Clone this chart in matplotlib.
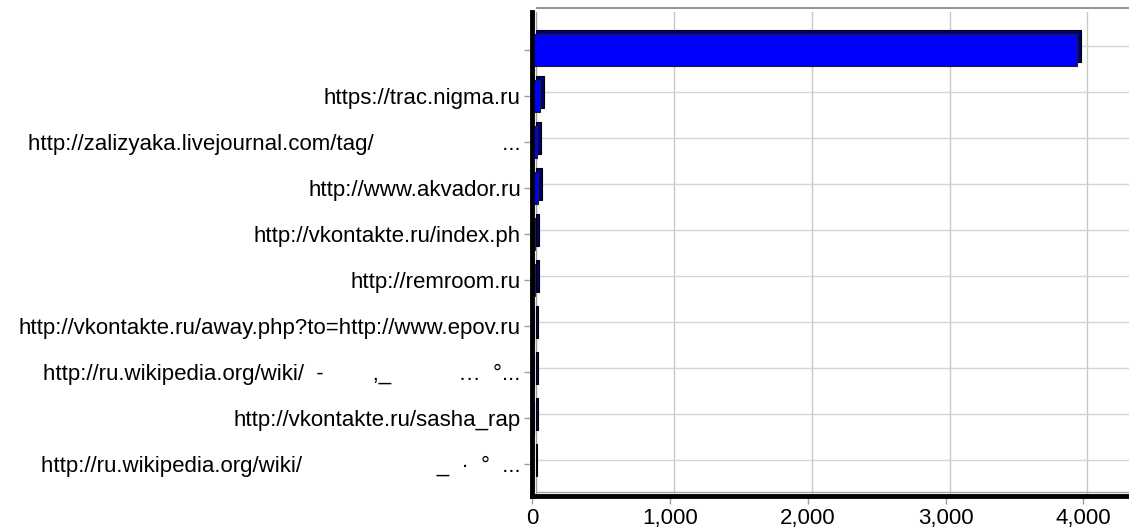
import matplotlib.pyplot as plt
from matplotlib.transforms import ScaledTranslation

plt.rcParams['font.family'] = ['Liberation Sans', 'DejaVu Sans']

# Referring sites, top to bottom (some titles lost their Cyrillic text).
labels = [
    '',
    'https://trac.nigma.ru',
    'http://zalizyaka.livejournal.com/tag/' + ' ' * 21 + '...',
    'http://www.akvador.ru',
    'http://vkontakte.ru/index.ph',
    'http://remroom.ru',
    'http://vkontakte.ru/away.php?to=http://www.epov.ru',
    'http://ru.wikipedia.org/wiki/  -' + ' ' * 8 + ',_' + ' ' * 11 + '\u2026  \u00b0...',
    'http://vkontakte.ru/sasha_rap',
    'http://ru.wikipedia.org/wiki/' + ' ' * 22 + '_  \u00b7  \u00b0  ...',
]
visits = [3950, 60, 40, 42, 22, 20, 18, 15, 12, 10]
xticks = [0, 1000, 2000, 3000, 4000]

fig = plt.figure(figsize=(11.29, 5.31), dpi=100)
ax = fig.add_axes([0.4712, 0.066, 0.5288, 0.911])

pos = list(range(len(labels)))
xmax = 4330

# 3D depth: everything at the back plane is shifted 4 px right and up.
back = ax.transData + ScaledTranslation(0.04, 0.04, fig.dpi_scale_trans)

# Grid on the back plane.
ax.vlines(xticks[1:], 9.75, -0.75, colors='#c8c8c8', lw=1, transform=back, zorder=0)
ax.hlines(pos, 0, xmax, colors='#d4d4d4', lw=1, transform=back, zorder=0)
ax.vlines([0], 9.75, -0.9, colors='#a0a0a0', lw=1, transform=back, zorder=1)
ax.hlines([9.7], 0, xmax, colors='#a0a0a0', lw=1, transform=back, zorder=1)

# Bars: dark depth faces behind, bright front faces on top.
ax.barh(pos, visits, height=0.7, color='#00007a', edgecolor='black', lw=0.8,
        transform=back, zorder=2)
ax.barh(pos, visits, height=0.7, color='#0000ff', edgecolor='#202020', lw=0.8, zorder=3)

ax.set_xlim(0, xmax)
ax.set_ylim(9.7, -0.82)
ax.set_yticks(pos)
ax.set_yticklabels(labels, fontsize=16)
ax.set_xticks(xticks)
ax.set_xticklabels(['{:,}'.format(t) for t in xticks], fontsize=16)
ax.tick_params(axis='both', length=6, width=1, color='#a0a0a0', pad=2)
ax.tick_params(axis='x', pad=3)

for side in ['left', 'bottom']:
    ax.spines[side].set_linewidth(3.5)
    ax.spines[side].set_color('black')
    ax.spines[side].set_zorder(5)
ax.spines['top'].set_visible(False)
ax.spines['right'].set_visible(False)
# Top edge of the back plane.
ax.hlines([-0.82], 0, xmax, colors='#808080', lw=1.2, transform=back, zorder=1,
          clip_on=False)

fig.savefig('out.png', dpi=100)
